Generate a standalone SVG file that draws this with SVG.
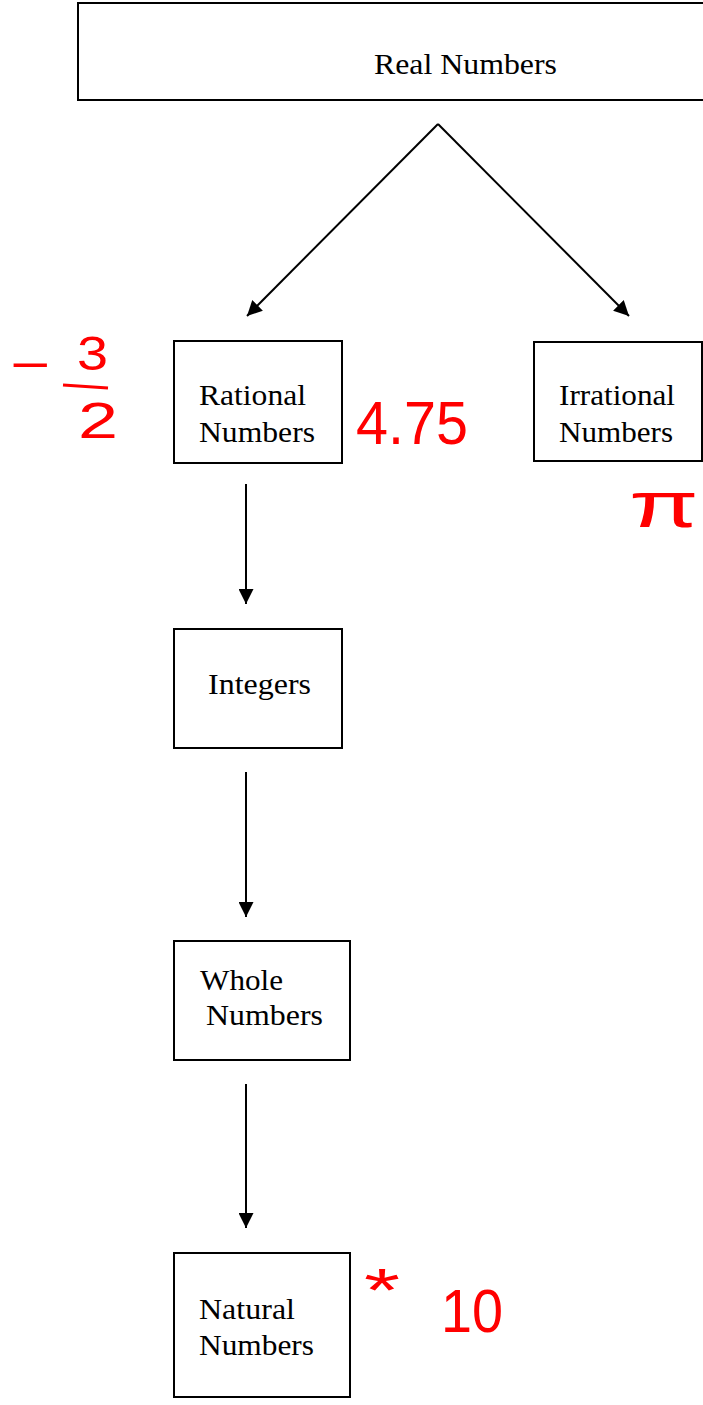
<svg xmlns="http://www.w3.org/2000/svg" width="703" height="1405" viewBox="0 0 703 1405">
<defs>
<style>
.box{fill:#fff;stroke:#000;stroke-width:2}
.lbl{font-family:"Liberation Serif","Times New Roman",serif;font-size:29px;fill:#000}
.edge{stroke:#000;stroke-width:2;fill:none;marker-end:url(#ah)}
.hand{font-family:"Liberation Sans",Arial,sans-serif;fill:#f00}
</style>
<marker id="ah" viewBox="0 0 10 10" refX="10" refY="5" markerWidth="16" markerHeight="15" markerUnits="userSpaceOnUse" orient="auto">
<path d="M0,0 L10,5 L0,10 Z" fill="#000"/>
</marker>
</defs>
<rect width="703" height="1405" fill="#fff"/>
<g id="connectors">
<line class="edge" x1="438" y1="124" x2="247" y2="316"/>
<line class="edge" x1="438" y1="124" x2="629" y2="316"/>
<line class="edge" x1="246" y1="484" x2="246" y2="604"/>
<line class="edge" x1="246" y1="772" x2="246" y2="917"/>
<line class="edge" x1="246" y1="1084" x2="246" y2="1228"/>
</g>
<g id="real">
<rect class="box" x="78" y="3" width="640" height="97"/>
<text class="lbl" x="374" y="74" textLength="183" lengthAdjust="spacingAndGlyphs">Real Numbers</text>
</g>
<g id="rational">
<rect class="box" x="174" y="341" width="168" height="122"/>
<text class="lbl" x="199" y="405" textLength="107" lengthAdjust="spacingAndGlyphs">Rational</text>
<text class="lbl" x="199" y="442" textLength="116" lengthAdjust="spacingAndGlyphs">Numbers</text>
</g>
<g id="irrational">
<rect class="box" x="534" y="342" width="168" height="119"/>
<text class="lbl" x="559" y="405" textLength="116" lengthAdjust="spacingAndGlyphs">Irrational</text>
<text class="lbl" x="559" y="442" textLength="114" lengthAdjust="spacingAndGlyphs">Numbers</text>
</g>
<g id="integers">
<rect class="box" x="174" y="629" width="168" height="119"/>
<text class="lbl" x="208" y="694" textLength="103" lengthAdjust="spacingAndGlyphs">Integers</text>
</g>
<g id="whole">
<rect class="box" x="174" y="941" width="176" height="119"/>
<text class="lbl" x="200" y="990" textLength="83" lengthAdjust="spacingAndGlyphs">Whole</text>
<text class="lbl" x="206" y="1025" textLength="117" lengthAdjust="spacingAndGlyphs">Numbers</text>
</g>
<g id="natural">
<rect class="box" x="174" y="1253" width="176" height="144"/>
<text class="lbl" x="199" y="1319" textLength="96" lengthAdjust="spacingAndGlyphs">Natural</text>
<text class="lbl" x="199" y="1355" textLength="115" lengthAdjust="spacingAndGlyphs">Numbers</text>
</g>
<g id="annotations">
<text class="hand" x="10" y="382" font-size="50" textLength="40" lengthAdjust="spacingAndGlyphs">−</text>
<text class="hand" x="77" y="370" font-size="48" textLength="31" lengthAdjust="spacingAndGlyphs">3</text>
<line x1="63" y1="385" x2="108" y2="388" stroke="#f00" stroke-width="3"/>
<text class="hand" x="78" y="438" font-size="50" textLength="40" lengthAdjust="spacingAndGlyphs">2</text>
<text class="hand" x="356" y="444" font-size="62" textLength="112" lengthAdjust="spacingAndGlyphs">4.75</text>
<text class="hand" transform="translate(629,527) scale(1.7,1.9)" font-size="34" textLength="41" lengthAdjust="spacingAndGlyphs" x="0" y="0">π</text>
<text class="hand" x="364" y="1311" font-size="62" textLength="36" lengthAdjust="spacingAndGlyphs">*</text>
<text class="hand" x="441" y="1332" font-size="62" textLength="62" lengthAdjust="spacingAndGlyphs">10</text>
</g>
</svg>
